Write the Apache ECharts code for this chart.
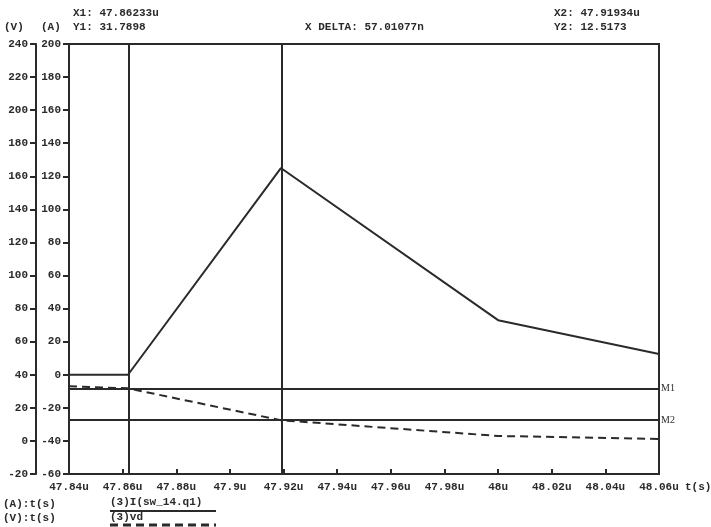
<!DOCTYPE html>
<html>
<head>
<meta charset="utf-8">
<script src="https://cdn.jsdelivr.net/npm/echarts@6/dist/echarts.min.js"></script>
<style>
  html, body { margin: 0; padding: 0; background: #fff; }
  #chart { width: 711px; height: 527px; }
</style>
</head>
<body>
<div id="chart"></div>
<script>
// Switch transient: drain current (A) and drain voltage (V) against time (us)
const currentTime = [47.84, 47.862, 47.919, 48.0, 48.06];
const currentAmps = [0, 0, 125, 33, 12.5];
const voltageTime = [47.84, 47.862, 47.919, 48.0, 48.06];
const voltageVolts = [33, 31.8, 12.5, 3, 1.2];

// Cursor readouts
const cursorX1 = 47.86233;
const cursorX2 = 47.91934;
const cursorY1 = 31.7898;
const cursorY2 = 12.5173;
const deltaText = '57.01077n';

// Axis ranges
const timeRange = [47.84, 48.06, 0.02];
const ampRange = [-60, 200, 20];
const voltRange = [-20, 240, 20];

const ink = '#2a2a2a';
const mono = 'Liberation Mono';
const txt = { fontFamily: mono, fontWeight: 'bold', fontSize: 11, color: ink };

const chart = echarts.init(document.getElementById('chart'));

function zip(xs, ys) { return xs.map((x, i) => [x, ys[i]]); }
function mkStyle() {
  return { font: 'bold 11px "' + mono + '"', fill: ink };
}

const cursorLabel = {
  show: true, position: 'end', distance: 2,
  fontFamily: 'Liberation Serif', fontSize: 10, color: ink, padding: [0, 0, 14, 0]
};

chart.setOption({
  animation: false,
  backgroundColor: '#fff',
  grid: {
    left: 69, right: 52, top: 44, bottom: 53,
    outerBoundsMode: 'none', containLabel: false,
    show: true, borderColor: ink, borderWidth: 2, backgroundColor: 'transparent'
  },
  xAxis: {
    type: 'value',
    min: timeRange[0], max: timeRange[1], interval: timeRange[2],
    name: 't(s)', nameLocation: 'end', nameGap: 26,
    nameTextStyle: Object.assign({}, txt, { verticalAlign: 'top', padding: [8, 0, 0, 0] }),
    axisLine: { show: true, onZero: false, lineStyle: { color: ink, width: 2 } },
    axisTick: { show: true, inside: true, length: 5, lineStyle: { color: ink, width: 2 } },
    axisLabel: Object.assign({}, txt, {
      margin: 8,
      formatter: v => (+v.toFixed(2)) + 'u'
    }),
    splitLine: { show: false }
  },
  yAxis: [
    {
      type: 'value', position: 'left', offset: 0,
      min: ampRange[0], max: ampRange[1], interval: ampRange[2],
      axisLine: { show: true, onZero: false, lineStyle: { color: ink, width: 2 } },
      axisTick: { show: true, length: 6, lineStyle: { color: ink, width: 2 } },
      axisLabel: Object.assign({}, txt, { margin: 8 }),
      splitLine: { show: false }
    },
    {
      type: 'value', position: 'left', offset: 33,
      min: voltRange[0], max: voltRange[1], interval: voltRange[2],
      axisLine: { show: true, onZero: false, lineStyle: { color: ink, width: 2 } },
      axisTick: { show: true, length: 6, lineStyle: { color: ink, width: 2 } },
      axisLabel: Object.assign({}, txt, { margin: 8 }),
      splitLine: { show: false }
    }
  ],
  series: [
    {
      name: '(3)I(sw_14.q1)',
      type: 'line', yAxisIndex: 0,
      data: zip(currentTime, currentAmps),
      symbol: 'none',
      lineStyle: { color: ink, width: 2 }
    },
    {
      name: '(3)vd',
      type: 'line', yAxisIndex: 1,
      data: zip(voltageTime, voltageVolts),
      symbol: 'none',
      lineStyle: { color: ink, width: 2, type: [8, 5] },
      markLine: {
        silent: true,
        symbol: 'none',
        precision: 6,
        animation: false,
        lineStyle: { color: ink, width: 2, type: 'solid' },
        label: { show: false },
        data: [
          { xAxis: cursorX1 },
          { xAxis: cursorX2 },
          { yAxis: cursorY1, label: Object.assign({ formatter: 'M1' }, cursorLabel) },
          { yAxis: cursorY2, label: Object.assign({ formatter: 'M2' }, cursorLabel) }
        ]
      }
    }
  ],
  graphic: [
    { type: 'text', left: 73, top: 8, style: Object.assign({ text: 'X1: ' + cursorX1 + 'u' }, mkStyle()) },
    { type: 'text', left: 4, top: 22, style: Object.assign({ text: '(V)' }, mkStyle()) },
    { type: 'text', left: 41, top: 22, style: Object.assign({ text: '(A)' }, mkStyle()) },
    { type: 'text', left: 73, top: 22, style: Object.assign({ text: 'Y1: ' + cursorY1 }, mkStyle()) },
    { type: 'text', left: 305, top: 22, style: Object.assign({ text: 'X DELTA: ' + deltaText }, mkStyle()) },
    { type: 'text', left: 554, top: 8, style: Object.assign({ text: 'X2: ' + cursorX2 + 'u' }, mkStyle()) },
    { type: 'text', left: 554, top: 22, style: Object.assign({ text: 'Y2: ' + cursorY2 }, mkStyle()) },

    { type: 'text', left: 3, top: 499, style: Object.assign({ text: '(A):t(s)' }, mkStyle()) },
    { type: 'text', left: 3, top: 513, style: Object.assign({ text: '(V):t(s)' }, mkStyle()) },
    { type: 'text', left: 110, top: 497, style: Object.assign({ text: '(3)I(sw_14.q1)' }, mkStyle()) },
    { type: 'line', shape: { x1: 110, y1: 511, x2: 216, y2: 511 }, style: { stroke: ink, lineWidth: 2 } },
    { type: 'text', left: 110, top: 512, style: Object.assign({ text: '(3)vd' }, mkStyle()) },
    { type: 'line', shape: { x1: 110, y1: 525, x2: 216, y2: 525 }, style: { stroke: ink, lineWidth: 3, lineDash: [8, 5] } }
  ]
});
</script>
</body>
</html>
